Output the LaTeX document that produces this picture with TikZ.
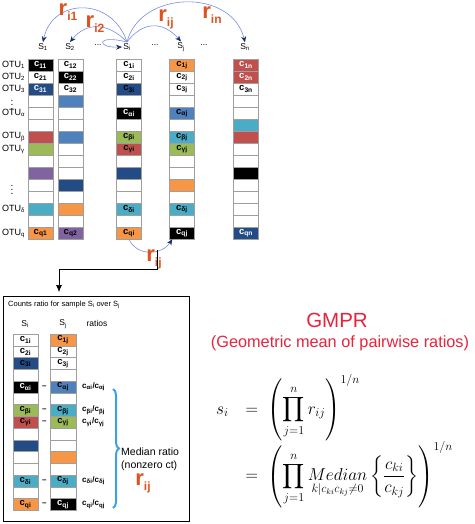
\documentclass[tikz,border=0pt]{standalone}
\usepackage{fontspec}
\setmainfont{Liberation Sans}
\usepackage{amsmath}
\usetikzlibrary{arrows.meta,decorations.pathreplacing,calc}
\definecolor{cdblue}{RGB}{35,76,135}
\definecolor{cmblue}{RGB}{79,129,189}
\definecolor{cred}{RGB}{192,80,77}
\definecolor{cgreen}{RGB}{155,187,89}
\definecolor{cpurple}{RGB}{128,100,162}
\definecolor{ccyan}{RGB}{75,172,198}
\definecolor{corange}{RGB}{247,150,70}
\definecolor{rcol}{RGB}{222,82,30}
\definecolor{arccol}{RGB}{120,140,230}
\definecolor{tipcol}{RGB}{25,45,100}
\definecolor{gmpr}{RGB}{232,35,60}
\definecolor{bracecol}{RGB}{60,160,230}
\newcommand{\rlab}[1]{r{\fontsize{12}{12}\selectfont\raisebox{-5pt}{#1}}}
\def\colAlist{black/white/{c\textsubscript{11}}, white/black/{c\textsubscript{21}}, cdblue/white/{c\textsubscript{31}}, white/black/{}, white/black/{}, white/black/{}, cred/black/{}, cgreen/black/{}, white/black/{}, cpurple/black/{}, white/black/{}, white/black/{}, ccyan/black/{}, white/black/{}, corange/black/{c\textsubscript{q1}}}
\def\colBlist{white/black/{c\textsubscript{12}}, black/white/{c\textsubscript{22}}, white/black/{c\textsubscript{32}}, cmblue/black/{}, white/black/{}, white/black/{}, cmblue/black/{}, white/black/{}, white/black/{}, white/black/{}, cdblue/black/{}, white/black/{}, corange/black/{}, white/black/{}, cpurple/black/{c\textsubscript{q2}}}
\def\colIlist{white/black/{c\textsubscript{1i}}, white/black/{c\textsubscript{2i}}, cdblue/black/{c\textsubscript{3i}}, white/black/{}, black/white/{c\textsubscript{αi}}, white/black/{}, cgreen/black/{c\textsubscript{βi}}, cred/black/{c\textsubscript{γi}}, white/black/{}, cdblue/black/{}, white/black/{}, white/black/{}, ccyan/black/{c\textsubscript{δi}}, white/black/{}, corange/black/{c\textsubscript{qi}}}
\def\colJlist{corange/black/{c\textsubscript{1j}}, white/black/{c\textsubscript{2j}}, white/black/{c\textsubscript{3j}}, white/black/{}, cmblue/black/{c\textsubscript{αj}}, white/black/{}, ccyan/black/{c\textsubscript{βj}}, cgreen/black/{c\textsubscript{γj}}, white/black/{}, white/black/{}, corange/black/{}, white/black/{}, ccyan/black/{c\textsubscript{δj}}, white/black/{}, black/white/{c\textsubscript{qj}}}
\def\colNlist{cred/white/{c\textsubscript{1n}}, cred/white/{c\textsubscript{2n}}, white/black/{c\textsubscript{3n}}, white/black/{}, white/black/{}, ccyan/black/{}, cred/black/{}, white/black/{}, white/black/{}, black/white/{}, white/black/{}, white/black/{}, white/black/{}, white/black/{}, cdblue/white/{c\textsubscript{qn}}}
\begin{document}
\begin{tikzpicture}[x=1pt,y=-1pt,
  cell/.style={draw=gray!75, line width=0.5pt, minimum width=25pt, minimum height=12pt, inner sep=0pt, font=\fontsize{9.5}{9.5}\selectfont\bfseries},
  bcell/.style={cell, minimum width=25.5pt, minimum height=11.75pt},
  otu/.style={anchor=west, inner sep=0pt, font=\fontsize{9}{9}\selectfont},
  slab/.style={inner sep=1pt, font=\fontsize{8.5}{9}\selectfont},
  rl/.style={inner sep=0pt, text=rcol, font=\fontsize{22}{22}\selectfont\bfseries},
  arc/.style={draw=arccol, line width=0.6pt, -{Stealth[length=6pt,width=5pt,color=tipcol]}},
  ratio/.style={anchor=west, inner sep=0pt, font=\fontsize{8}{8}\selectfont\bfseries},
  dashmark/.style={inner sep=0pt, font=\fontsize{8}{8}\selectfont\bfseries}]
\useasboundingbox (0,0) rectangle (474,524);
% top columns
\foreach \f/\t/\l [count=\r] in \colAlist {\node[cell, fill=\f, text=\t] (ta-\r) at (40.5,{59+12*(\r-0.5)}) {\l};}
\foreach \f/\t/\l [count=\r] in \colBlist {\node[cell, fill=\f, text=\t] (tb-\r) at (70.5,{59+12*(\r-0.5)}) {\l};}
\foreach \f/\t/\l [count=\r] in \colIlist {\node[cell, fill=\f, text=\t] (ti-\r) at (129,{59+12*(\r-0.5)}) {\l};}
\foreach \f/\t/\l [count=\r] in \colJlist {\node[cell, fill=\f, text=\t] (tj-\r) at (182,{59+12*(\r-0.5)}) {\l};}
\foreach \f/\t/\l [count=\r] in \colNlist {\node[cell, fill=\f, text=\t] (tn-\r) at (246,{59+12*(\r-0.5)}) {\l};}
% OTU labels
\foreach \r/\g in {1/1,2/2,3/3,5/α,7/β,8/γ,13/δ,15/q}
  {\node[otu] (otu-\r) at (2,{59+12*(\r-0.5)}) {OTU\textsubscript{\g}};}
\node[inner sep=0pt] (vd1) at (12,102) {$\vdots$};
\node[inner sep=0pt] (vd2) at (12,187) {$\vdots$};
% sample labels
\node[slab] (s1) at (43,47) {S\textsubscript{1}};
\node[slab] (s2) at (70,47) {S\textsubscript{2}};
\node[slab] (d1) at (98,45) {...};
\node[slab] (si) at (127,47) {S\textsubscript{i}};
\node[slab] (d2) at (155,45) {...};
\node[slab] (sj) at (181,47) {S\textsubscript{j}};
\node[slab] (d3) at (204,45) {...};
\node[slab] (sn) at (245,47) {S\textsubscript{n}};
% top arcs
\draw[arc] (si.north) .. controls (112,-4) and (52,-2) .. (s1.north);
\draw[arc] (si.north) .. controls (108,22) and (86,22) .. (s2.north);
\draw[arc] (si.north) .. controls (96,34) and (96,48) .. (si.west);
\draw[arc] (si.north) .. controls (142,22) and (162,20) .. (sj.north);
\draw[arc] (si.north) .. controls (140,-10) and (232,-12) .. (sn.north);
\node[rl] (ri1) at (68,12) {\rlab{i1}};
\node[rl] (ri2) at (95,24) {\rlab{i2}};
\node[rl] (rij) at (166,19) {\rlab{ij}};
\node[rl] (rin) at (212,15) {\rlab{in}};
% bottom arc
\draw[arc] (ti-15.south) .. controls (138,258) and (163,254) .. ([xshift=3pt]tj-15.south west);
\node[rl] (rij2) at (154,259) {\rlab{ij}};
% box
\node[draw, line width=1.3pt, minimum width=186pt, minimum height=225pt, anchor=north west, inner sep=0pt] (box) at (3,296) {};
\coordinate (tap) at (157,250);
\coordinate (turn) at (59,269);
\draw[line width=0.7pt, -{Latex[length=7pt,width=6pt]}] (tap) |- (turn) -- ([yshift=4pt]box.north -| turn);
\node[anchor=west, inner sep=0pt, font=\fontsize{7.5}{8}\selectfont] (title) at (8,305) {Counts ratio for sample S\textsubscript{i} over S\textsubscript{j}};
\node[slab] (bsi) at (25,324) {S\textsubscript{i}};
\node[slab] (bsj) at (63,324) {S\textsubscript{j}};
\node[slab] (rat) at (97,323) {ratios};
\foreach \f/\t/\l [count=\r] in \colIlist {\node[bcell, fill=\f, text=\t] (bi-\r) at (25.5,{334+11.75*(\r-0.5)}) {\l};}
\foreach \f/\t/\l [count=\r] in \colJlist {\node[bcell, fill=\f, text=\t] (bj-\r) at (63,{334+11.75*(\r-0.5)}) {\l};}
\foreach \r/\g in {5/α,7/β,8/γ,13/δ,15/q} {
  \node[dashmark] (dm-\r) at ($(bi-\r.east)!0.5!(bj-\r.west)$) {–};
  \node[ratio] (ra-\r) at ([xshift=6pt]bj-\r.east) {c\textsubscript{\g i}/c\textsubscript{\g j}};
}
\draw[decorate, decoration={brace, amplitude=6pt}, draw=bracecol, line width=2pt] (113,389) -- (113,508);
\node[anchor=west, inner sep=0pt, font=\fontsize{10.5}{11}\selectfont] (med1) at (121,452) {Median ratio};
\node[anchor=west, inner sep=0pt, font=\fontsize{10.5}{11}\selectfont] (med2) at (121,466) {(nonzero ct)};
\node[rl] (rij3) at (143,483) {\rlab{ij}};
% GMPR
\node[text=gmpr, inner sep=0pt, font=\fontsize{20.5}{22}\selectfont] (gmprt) at (337,320) {GMPR};
\node[text=gmpr, inner sep=0pt, font=\fontsize{16.3}{18}\selectfont] (gmprs) at (340,343) {(Geometric mean of pairwise ratios)};
\node[anchor=west, inner sep=0pt] (formula) at (211,441) {\fontsize{17}{20}\selectfont$\begin{array}{r@{\quad}c@{\;\;}l}
\displaystyle s_i & = & \displaystyle\left(\prod_{j=1}^{n} r_{ij}\right)^{1/n}\\[14pt]
 & = & \displaystyle\left(\prod_{j=1}^{n} \mathop{Median}\limits_{k|c_{ki}c_{kj}\neq 0}\left\{\frac{c_{ki}}{c_{kj}}\right\}\right)^{1/n}
\end{array}$};
\end{tikzpicture}
\end{document}
